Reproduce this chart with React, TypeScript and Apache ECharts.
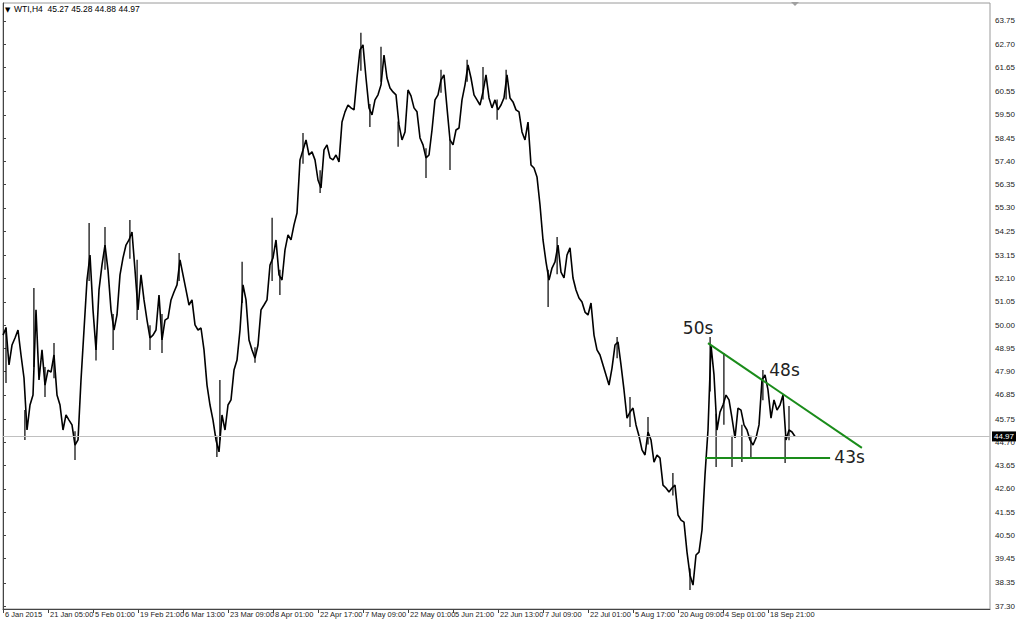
import React, { useEffect, useRef } from "react";
import * as echarts from "echarts";

// Bar index of the first label is 0; one tick label every 15 samples
const xLabels = [
  "6 Jan 2015", "21 Jan 05:00", "5 Feb 01:00", "19 Feb 21:00", "6 Mar 13:00",
  "23 Mar 09:00", "8 Apr 01:00", "22 Apr 17:00", "7 May 09:00", "22 May 01:00",
  "5 Jun 21:00", "22 Jun 13:00", "7 Jul 09:00", "22 Jul 01:00", "5 Aug 17:00",
  "20 Aug 09:00", "4 Sep 01:00", "18 Sep 21:00",
];
const labelStep = 15;

const yTicks = [
  63.75, 62.7, 61.65, 60.55, 59.5, 58.45, 57.4, 56.35, 55.3, 54.25, 53.15, 52.1,
  51.05, 50.0, 48.95, 47.9, 46.85, 45.75, 44.7, 43.65, 42.6, 41.55, 40.5, 39.45,
  38.35, 37.3,
];

// WTI H4 closes (sampled)
const prices = [
  49.55, 49.87, 48.2, 49.1, 49.42, 49.78, 48.65, 47.61, 45.26, 46.39,
  46.84, 50.69, 47.52, 48.88, 47.29, 47.97, 47.88, 48.65, 46.84, 46.39,
  45.26, 45.94, 45.71, 45.49, 44.58, 44.81, 47.52, 49.78, 52.04, 53.17,
  50.69, 48.88, 51.59, 52.72, 53.62, 52.49, 50.69, 49.78, 50.46, 52.27,
  53.04, 53.62, 53.85, 54.21, 52.49, 50.69, 52.27, 51.14, 50.23, 49.42,
  49.55, 49.78, 51.36, 49.33, 50.23, 50.32, 51.14, 51.5, 51.82, 52.95,
  52.27, 51.59, 50.91, 51.14, 50.01, 49.78, 49.87, 48.88, 47.29, 46.39,
  45.71, 44.81, 44.27, 45.94, 45.26, 46.39, 46.62, 47.97, 48.42, 49.78,
  51.82, 51.14, 49.33, 48.88, 48.51, 49.1, 50.69, 50.91, 51.14, 52.72,
  53.04, 53.85, 52.27, 52.04, 53.4, 54.08, 53.85, 54.53, 55.07, 57.47,
  57.92, 58.37, 57.69, 57.83, 57.47, 56.56, 56.2, 57.92, 58.15, 57.56,
  57.47, 57.69, 57.38, 59.18, 59.64, 59.95, 59.82, 59.73, 61.17, 62.44,
  62.67, 61.17, 59.82, 59.5, 60.18, 60.41, 60.86, 62.21, 61.17, 60.72,
  60.54, 60.41, 59.05, 58.37, 58.73, 60.63, 60.36, 59.82, 59.64, 58.46,
  58.15, 57.56, 57.69, 58.82, 60.18, 60.41, 61.08, 61.31, 59.82, 58.37,
  58.15, 58.82, 58.91, 60.18, 60.86, 61.76, 61.17, 60.41, 60.18, 59.95,
  60.54, 61.31, 60.27, 59.82, 60.18, 59.73, 59.95, 60.27, 61.31, 60.27,
  60.09, 59.73, 59.64, 58.73, 58.37, 59.18, 57.24, 57.1, 56.7, 55.43,
  53.85, 52.86, 52.04, 52.58, 52.86, 53.62, 52.4, 52.13, 53.17, 53.49,
  52.13, 51.59, 51.23, 51.05, 50.59, 50.46, 51.0, 49.55, 48.88, 48.65,
  48.2, 47.75, 47.29, 48.06, 49.1, 49.24, 48.2, 47.07, 45.8, 46.07,
  46.25, 45.49, 44.99, 44.36, 44.13, 45.17, 44.81, 43.81, 44.13, 43.99,
  42.77, 42.64, 42.46, 42.64, 42.77, 41.42, 41.19, 41.1, 39.74, 38.7,
  38.25, 39.61, 39.74, 40.74, 43.23, 45.26, 49.1, 47.75, 45.26, 46.07,
  46.39, 46.84, 46.62, 45.8, 44.9, 46.25, 46.16, 45.49, 45.26, 44.81,
  44.58, 44.9, 45.49, 47.52, 47.75, 47.07, 45.8, 46.62, 46.16, 46.39,
  46.84, 44.81, 45.26, 45.17, 44.97,
];

// Visible high/low spikes: [sample index, low, high]
const wicks = [
  [1, 47.38, 49.92], [7.3, 44.81, 46.17], [10.3, 48.11, 51.68], [14, 46.75, 48.11],
  [17, 47.6, 49.19], [24, 43.9, 45.2], [28.7, 52.0, 54.62], [31, 48.4, 49.5],
  [34, 52.5, 54.44], [36.7, 48.88, 50.5], [42.3, 53.0, 54.75], [44.7, 50.23, 52.95],
  [49, 48.88, 50.0], [53, 48.74, 50.5], [58.7, 52.0, 53.26], [71.3, 44.04, 45.0],
  [72.3, 44.8, 47.52], [79.7, 51.0, 52.86], [84, 48.3, 49.0], [89.7, 52.0, 54.85],
  [92.3, 51.36, 52.5], [100, 57.3, 58.68], [105.7, 55.97, 57.0], [119.3, 61.5, 63.21],
  [122.3, 58.96, 60.0], [126, 61.0, 62.58], [131.7, 58.06, 59.2], [141, 56.65, 58.0],
  [146, 60.5, 61.54], [149, 57.01, 58.4], [154.7, 61.0, 61.99], [160, 60.2, 61.67],
  [164.7, 59.28, 60.2], [167.7, 60.2, 61.54], [181.7, 50.82, 52.5], [184.7, 52.3, 53.98],
  [204.7, 48.5, 49.46], [209, 45.4, 46.75], [215, 44.6, 45.85], [223.3, 42.3, 43.32],
  [229, 38.03, 39.0], [235.7, 47.0, 49.46], [237.7, 43.59, 46.0], [240.3, 45.5, 48.74],
  [243, 43.59, 45.0], [246.3, 43.81, 45.5], [249.3, 44.0, 45.0], [253.3, 46.6, 47.97],
  [260.7, 43.77, 45.0], [262, 44.8, 46.35],
];

const lastPrice = 44.97;
const headerText = "WTI,H4  45.27 45.28 44.88 44.97";

// Drawn annotations: [sample index, price]
const resistanceLine = [[235, 49.19], [286.3, 44.45]];
const supportLine = [[234, 43.99], [275.7, 43.99]];
const annotations = [
  { text: "50s", at: [231.7, 49.87] },
  { text: "48s", at: [260.5, 47.95] },
  { text: "43s", at: [282.2, 44.04] },
];

const axisFontFamily = "'Liberation Sans', Arial, sans-serif";

export default function App() {
  const ref = useRef<HTMLDivElement>(null);
  useEffect(() => {
    if (!ref.current) return;
    const chart = echarts.init(ref.current, undefined, { renderer: "svg" });
    chart.setOption({
      animation: false,
      backgroundColor: "#ffffff",
      grid: {
        left: 3, right: 34, top: 3, bottom: 14,
        show: true, borderColor: "#9a9a9a", borderWidth: 1,
      },
      xAxis: {
        type: "value", min: 0, max: 329, position: "bottom",
        axisLine: { show: true, onZero: false, lineStyle: { color: "#444" } },
        axisTick: { show: true, length: 4, customValues: xLabels.map((_, i) => i * labelStep), lineStyle: { color: "#444" } },
        axisLabel: {
          fontFamily: axisFontFamily, fontSize: 7.5, color: "#222",
          margin: 1, align: "left", padding: [0, 0, 0, 2],
          customValues: xLabels.map((_, i) => i * labelStep),
          formatter: (v: number) => xLabels[Math.round(v / labelStep)] ?? "",
        },
        splitLine: { show: false },
      },
      yAxis: {
        type: "value", min: 37.17, max: 64.56, position: "right",
        axisLine: { show: true, lineStyle: { color: "#444" } },
        axisTick: { show: true, length: 3, customValues: yTicks, lineStyle: { color: "#444" } },
        axisLabel: {
          fontFamily: axisFontFamily, fontSize: 8, color: "#222", margin: 5,
          customValues: yTicks,
          formatter: (v: number) => v.toFixed(2),
        },
        splitLine: { show: false },
      },
      graphic: [
        { type: "text", left: 5, top: 6, style: { text: "▼", fontSize: 7, fill: "#000", fontFamily: "DejaVu Sans" } },
        { type: "text", left: 14, top: 4, style: { text: headerText, fontSize: 8.5, fill: "#000", fontFamily: axisFontFamily } },
        { type: "polygon", shape: { points: [[791, 2], [799, 2], [795, 6]] }, style: { fill: "#a0a0a0" } },
      ],
      series: [
        {
          type: "custom",
          silent: true,
          data: wicks,
          z: 2,
          renderItem: (params: any, api: any) => {
            const a = api.coord([api.value(0), api.value(1)]);
            const b = api.coord([api.value(0), api.value(2)]);
            return {
              type: "line",
              shape: { x1: a[0], y1: a[1], x2: b[0], y2: b[1] },
              style: { stroke: "#000", lineWidth: 1.2 },
            };
          },
        },
        {
          type: "line",
          data: prices.map((p, i) => [i, p]),
          showSymbol: false,
          symbol: "none",
          lineStyle: { color: "#000", width: 1.6 },
          z: 3,
          markLine: {
            silent: true,
            symbol: "none",
            data: [
              {
                yAxis: lastPrice,
                lineStyle: { color: "#c0c0c0", width: 1, type: "solid" },
                label: {
                  show: true, position: "end", formatter: lastPrice.toFixed(2),
                  backgroundColor: "#000", color: "#fff", fontSize: 8,
                  fontFamily: axisFontFamily, padding: [1, 2, 1, 2], distance: 2,
                },
              },
              [
                { coord: resistanceLine[0], lineStyle: { color: "#1a8c1a", width: 2, type: "solid" }, label: { show: false } },
                { coord: resistanceLine[1] },
              ],
              [
                { coord: supportLine[0], lineStyle: { color: "#1a8c1a", width: 2, type: "solid" }, label: { show: false } },
                { coord: supportLine[1] },
              ],
            ],
          },
          markPoint: {
            silent: true,
            symbol: "circle",
            symbolSize: 0,
            data: annotations.map((a) => ({
              coord: a.at,
              label: {
                show: true, position: "inside", formatter: a.text,
                fontSize: 17, color: "#222", fontFamily: "DejaVu Sans",
              },
            })),
          },
        },
      ],
    });
    return () => chart.dispose();
  }, []);
  return (
    <div
      ref={ref}
      style={{ position: "fixed", left: 0, top: 0, width: 1024, height: 623 }}
    />
  );
}
